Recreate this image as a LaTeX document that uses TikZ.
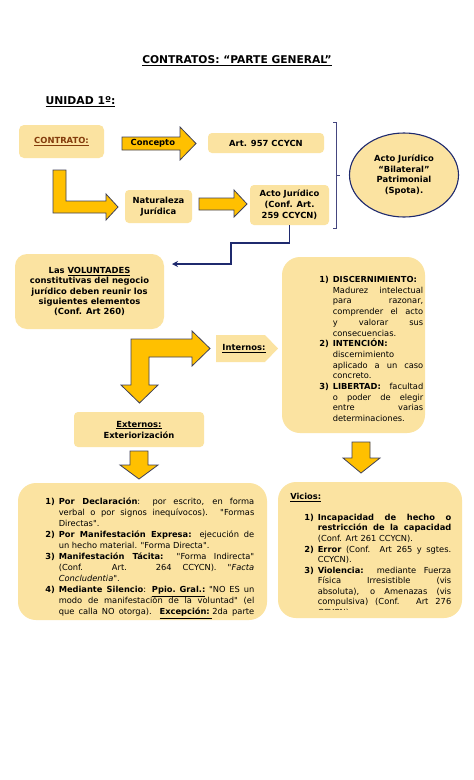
\documentclass[tikz,border=0pt]{standalone}
\usepackage{fontspec}
\setmainfont{DejaVu Sans}
\newfontfamily\listfamily{DejaVu Sans}
\usetikzlibrary{arrows.meta,shapes.geometric}
\definecolor{boxfill}{HTML}{FBE3A1}
\definecolor{gold}{HTML}{FFC000}
\definecolor{arrowedge}{HTML}{3F4158}
\definecolor{navy}{HTML}{1F2A6E}
\definecolor{bracketcol}{HTML}{45467F}
\definecolor{contratocol}{HTML}{843C0C}
\newcommand{\boxfont}{\fontsize{8.4}{10.7}\selectfont}
\newcommand{\listfont}{\listfamily\fontsize{8.3}{10.7}\selectfont}
\newcommand{\itm}[2]{\par\noindent\hangindent=13.5pt\hangafter=1\makebox[13.5pt][l]{\textbf{#1)}}#2\par}
\hyphenpenalty=10000
\exhyphenpenalty=10000
\tolerance=10000
\hbadness=10000
\tikzset{
  box/.style={fill=boxfill,rounded corners=4pt,inner sep=0pt,align=center,font=\boxfont\bfseries},
  blockarrow/.style={fill=gold,draw=arrowedge,line width=0.8pt},
  listtext/.style={anchor=north west,inner sep=0pt,align=justify,font=\listfont},
  link/.style={draw=navy,line width=1.7pt,-{Stealth[length=6pt,width=6pt]}}}

\begin{document}
\begin{tikzpicture}[x=1pt,y=-1pt,semithick]
  \fill[white] (0,0) rectangle (474,780);
  \useasboundingbox (0,0) rectangle (474,780);

  \node[font=\fontsize{10.7}{13}\selectfont\bfseries] (title) at (237,61) {\underline{CONTRATOS: “PARTE GENERAL”}};
  \node[font=\fontsize{10.8}{13}\selectfont\bfseries,anchor=west] (unidad) at (42,102) {\underline{UNIDAD 1º:}};

  \node[box,rounded corners=5pt,minimum width=85,minimum height=33,text=contratocol] (contrato) at (61.5,141.5) {\underline{CONTRATO:}};
  \draw[blockarrow] (122,137) -- (180,137) -- (180,127) -- (196,143.5) -- (180,160) -- (180,150) -- (122,150) -- cycle;
  \node[font=\boxfont\bfseries,anchor=west] (concepto) at (127,143.5) {Concepto};
  \node[box,minimum width=116,minimum height=20] (art957) at (266,143) {Art. 957 CCYCN};

  \draw[blockarrow] (53,170) -- (66,170) -- (66,201) -- (106,201) -- (106,194) -- (118,207) -- (106,220) -- (106,213) -- (53,213) -- cycle;
  \node[box,minimum width=67,minimum height=33] (naturaleza) at (158.5,206.5) {Naturaleza\\Jurídica};
  \draw[blockarrow] (199,198) -- (234,198) -- (234,190) -- (247,204) -- (234,217) -- (234,210) -- (199,210) -- cycle;
  \node[box,minimum width=79,minimum height=40,font=\fontsize{8.4}{11}\selectfont\bfseries] (acto) at (289.5,205) {Acto Jurídico\\(Conf. Art.\\259 CCYCN)};

  \draw[bracketcol,line width=0.8pt] (333,122) -- (336,122) -- (336,228) -- (333,228);
  \draw[bracketcol,line width=0.8pt] (336,175) -- (340,175);
  \node[ellipse,draw=navy,line width=1.1pt,fill=boxfill,minimum width=109,minimum height=84,inner sep=0pt,align=center,font=\boxfont\bfseries] (bilateral) at (404,175) {Acto Jurídico\\“Bilateral”\\Patrimonial\\(Spota).};

  \coordinate (knee) at (231,243);
  \coordinate (voluntin) at (172,264);
  \draw[link] (acto.south) |- (knee) |- (voluntin);

  \node[box,rounded corners=12pt,minimum width=149,minimum height=75,font=\fontsize{8.4}{10.4}\selectfont\bfseries] (volunt) at (89.5,291.5) {Las \underline{VOLUNTADES}\\constitutivas del negocio\\jurídico deben reunir los\\siguientes elementos\\(Conf. Art 260)};

  \draw[blockarrow] (131,385) -- (131,339) -- (192,339) -- (192,331) -- (210,348.5) -- (192,366) -- (192,357) -- (149,357) -- (149,385) -- (158,385) -- (139.5,403) -- (121,385) -- cycle;
  \fill[boxfill] (216,335) -- (265,335) -- (278,348.5) -- (265,362) -- (216,362) -- cycle;
  \node[font=\boxfont\bfseries] (internos) at (244,348.5) {\underline{Internos:}};

  \node[box,rounded corners=18pt,minimum width=143,minimum height=176] (elementos) at (353.5,345) {};
  \node[listtext,text width=104] (elemtext) at (319,271.5) {%
    \itm{1}{\textbf{DISCERNIMIENTO:}\linebreak Madurez intelectual\linebreak para razonar,\linebreak comprender el acto\linebreak y valorar sus\linebreak consecuencias.}
    \itm{2}{\textbf{INTENCIÓN:}\linebreak discernimiento\linebreak aplicado a un caso\linebreak concreto.}
    \itm{3}{\textbf{LIBERTAD:} facultad\linebreak o poder de elegir\linebreak entre varias\linebreak determinaciones.}};

  \node[box,minimum width=130,minimum height=35,font=\fontsize{8.4}{11}\selectfont\bfseries] (externos) at (139,429.5) {\underline{Externos:}\\Exteriorización};
  \draw[blockarrow] (130,451) -- (148,451) -- (148,465) -- (158,465) -- (139,479) -- (120,465) -- (130,465) -- cycle;
  \draw[blockarrow] (352,442) -- (370,442) -- (370,458) -- (380,458) -- (361,473) -- (343,458) -- (352,458) -- cycle;

  \node[box,rounded corners=18pt,minimum width=249,minimum height=137] (formas) at (142.5,551.5) {};
  \node[listtext,text width=209,font=\listfamily\fontsize{8.3}{11}\selectfont] (formastext) at (45,493.5) {%
    \itm{1}{\textbf{Por Declaración}: por escrito, en forma\linebreak verbal o por signos inequívocos). "Formas\linebreak Directas".}
    \itm{2}{\textbf{Por Manifestación Expresa:} ejecución de\linebreak un hecho material. "Forma Directa".}
    \itm{3}{\textbf{Manifestación Tácita:} "Forma Indirecta"\linebreak (Conf. Art. 264 CCYCN). \textit{"Facta\linebreak Concludentia"}.}
    \itm{4}{\textbf{Mediante Silencio}: \underline{\textbf{Ppio. Gral.:}} "NO ES un\linebreak modo de manifestación de la voluntad" (el\linebreak que calla NO otorga). \underline{\textbf{Excepción:}\ }2da parte\parfillskip=0pt}};

  \node[box,rounded corners=18pt,minimum width=184,minimum height=136] (vicios) at (370,550) {};
  \node[font=\listfont\bfseries,anchor=base west,inner sep=0pt] (vicioslabel) at (290,499.5) {\underline{Vicios:}};
  \begin{scope}
    \clip (278,482) rectangle (462,609.5);
    \node[listtext,text width=147,font=\listfamily\fontsize{8.3}{10.55}\selectfont] (viciostext) at (304,509.5) {%
      \itm{1}{\textbf{Incapacidad de hecho o\linebreak restricción de la capacidad}\linebreak (Conf. Art 261 CCYCN).}
      \itm{2}{\textbf{Error} (Conf. Art 265 y sgtes.\linebreak CCYCN).}
      \itm{3}{\textbf{Violencia:} mediante Fuerza\linebreak Física Irresistible (vis\linebreak absoluta), o Amenazas (vis\linebreak compulsiva) (Conf. Art 276\linebreak CCYCN).}};
  \end{scope}
\end{tikzpicture}
\end{document}
